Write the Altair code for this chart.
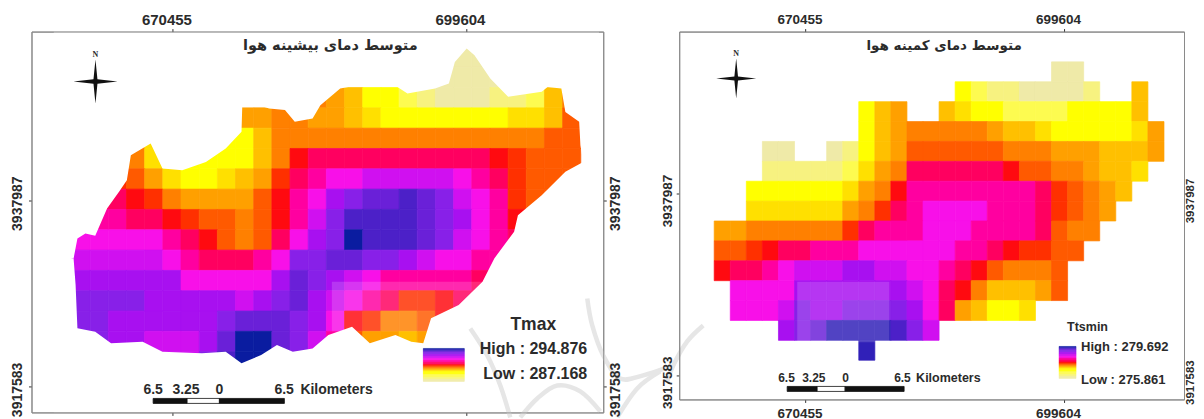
import altair as alt
import pandas as pd

N = None
# Class of each raster cell, 0 (coolest, cream) to 20 (warmest, navy); each row: first column, values
TMAX_ROWS = [
    (20, [0, 0, 0]),
    (20, [0, 0, 0, 0]),
    (13, [7, 6, 5, 3, 3, 2, 1, 0, 0, 0, 1, 1, 2, 5, 7]),
    (9, [6, 6, 7, 7, 6, 6, 5, 4, 3, 3, 3, 3, 3, 3, 3, 4, 4, 5, 8]),
    (3, [7, 4, 3, 3, 3, 3, 3, 5, 7, 7, 7, 7, 7, 7, 7, 7, 7, 7, 7, 7, 7, 7, 7, 8, 8]),
    (3, [7, 4, 3, 3, 3, 3, 3, 5, 7, 10, 11, 11, 11, 11, 11, 11, 11, 11, 11, 11, 10, 9, 8, 8, 8]),
    (2, [9, 8, 6, 4, 3, 3, 4, 5, 6, 9, 11, 12, 13, 13, 14, 14, 14, 14, 14, 13, 12, 11, 9, 8, 8, 8]),
    (1, [11, 11, 10, 9, 7, 6, 6, 6, 6, 8, 10, 12, 13, 15, 16, 17, 17, 18, 17, 16, 14, 13, 12, 9, 8, 8]),
    (1, [12, 12, 11, 11, 10, 9, 8, 8, 7, 8, 10, 12, 14, 16, 18, 18, 18, 18, 17, 16, 15, 13, 12, 10, 9]),
    (0, [13, 13, 13, 13, 13, 12, 11, 10, 8, 7, 8, 11, 13, 15, 16, 20, 18, 18, 18, 17, 16, 14, 13, 12, 11]),
    (0, [14, 14, 14, 14, 14, 13, 12, 11, 11, 11, 12, 13, 16, 16, 17, 17, 16, 16, 15, 14, 13, 13, 12, 12]),
    (0, [15, 15, 15, 15, 15, 15, 13, 13, 13, 13, 13, 15, 17, 16, 15, 14, 13, 12, 12, 12, 12, 12, 11]),
    (0, [16, 16, 16, 16, 15, 15, 15, 15, 15, 14, 15, 16, 17, 15, 14, 13, 12, 11, 9, 9, 10, 11, 11]),
    (0, [16, 16, 15, 15, 15, 15, 15, 15, 16, 17, 17, 17, 16, 15, 13, 10, 9, 7, 7, 8, 10, 11]),
    (0, [16, 16, 15, 15, 14, 14, 14, 15, 17, 20, 20, 17, 16, 14, 12, 8, 6, 6, 5, 6]),
    (4, [14, 14, 14, 16, 18, 20, 20, 17, 16, 14]),
]
TMIN_ROWS = [
    (21, [0, 0]),
    (15, [3, 2, 1, 1, 0, 0, 0, 0, 1, N, N, 5]),
    (9, [3, 5, 6, N, N, 5, 4, 3, 3, 2, 2, 2, 2, 3, 3, 3, 3, 5]),
    (9, [3, 5, 6, 7, 7, 7, 7, 7, 6, 5, 5, 4, 3, 3, 3, 3, 3, 4, 6]),
    (3, [0, 0, N, N, 0, 1, 3, 5, 6, 8, 8, 8, 8, 8, 8, 7, 7, 7, 6, 6, 6, 5, 5, 5, 6]),
    (3, [1, 1, 1, 1, 1, 2, 4, 6, 7, 11, 11, 11, 11, 11, 11, 10, 8, 8, 7, 7, 6, 5, 5, 4]),
    (2, [3, 3, 3, 3, 3, 3, 4, 6, 7, 10, 12, 12, 12, 12, 12, 12, 12, 12, 11, 9, 8, 7, 6, 5]),
    (2, [4, 4, 4, 4, 4, 4, 6, 7, 9, 11, 12, 13, 13, 13, 13, 12, 12, 12, 11, 9, 8, 7, 6]),
    (0, [6, 6, 7, 7, 7, 7, 7, 7, 9, 11, 12, 12, 12, 13, 13, 13, 12, 12, 12, 12, 11, 8, 7, 7]),
    (0, [8, 8, 9, 10, 11, 11, 12, 12, 12, 13, 13, 13, 13, 13, 13, 12, 12, 11, 10, 9, 9, 8, 8]),
    (0, [10, 11, 11, 12, 13, 14, 14, 14, 15, 15, 14, 14, 13, 13, 12, 11, 10, 8, 7, 7, 7, 8]),
    (1, [13, 13, 13, 13, 15, 15, 15, 15, 15, 15, 15, 14, 13, 11, 10, 7, 5, 5, 5, 6, 8]),
    (1, [13, 13, 13, 14, 16, 15, 15, 16, 16, 16, 16, 15, 13, 11, 6, 5, 3, 3, 4]),
    (4, [15, 16, 17, 19, 19, 19, 19, 18, 16, 14]),
    (9, [19]),
]
# Catchment outline in raster cell units (column, row), for the Tmax raster
OUTLINE_TOP_COL = [-1, .09, .30, .74, 1.28, 1.93, 2.59, 3.02, 3.24, 4.33, 4.98, 6.07, 7.37, 8.46, 9.33, 9.37, 9.98, 10.85, 11.72, 12.26, 13.24, 13.67, 14.76, 15.96, 17.70, 18.46, 19.98, 20.74, 21.07, 21.72, 22.15, 23.02, 24.0, 25.85, 26.17, 26.93, 27.15, 27.91, 27.98, 28.13, 29]
OUTLINE_TOP_ROW = [10.41, 10.41, 9.43, 9.18, 9.30, 7.95, 7.13, 6.56, 5.33, 4.75, 5.98, 6.07, 5.66, 5.0, 4.18, 2.95, 2.79, 3.03, 3.11, 3.69, 3.52, 2.87, 2.05, 1.85, 1.85, 2.30, 2.05, 1.80, .74, .08, .41, 1.56, 2.46, 2.21, 1.97, 2.05, 3.20, 3.69, 4.84, 5.66, 5.66]
OUTLINE_LOW_COL = [-1, .09, .20, .30, 1.28, 2.15, 3.89, 4.98, 7.15, 8.46, 9.33, 10.41, 11.28, 12.15, 13.24, 14.11, 15.41, 16.39, 17.8, 18.67, 19.33, 19.76, 21.28, 22.59, 23.24, 24.33, 24.54, 25.85, 27.15, 28.13, 29]
OUTLINE_LOW_ROW = [10.41, 10.41, 11.72, 13.85, 14.02, 14.59, 14.51, 15.0, 15.08, 15.0, 15.57, 15.16, 14.67, 15.0, 14.84, 14.18, 13.77, 14.59, 14.18, 14.51, 14.59, 13.36, 12.70, 11.56, 10.41, 9.10, 8.28, 7.30, 6.15, 5.66, 5.66]

COLOR_LEVELS = list(range(21))
COLOR_RANGE = ["#efeaa8", "#f7f280", "#fdfb50", "#ffff00", "#ffe000", "#ffc000", "#ffa000", "#ff8000", "#ff5a00",
               "#ff3000", "#ff0a10", "#ff0060", "#ff00a0", "#f810e8", "#d010f0", "#a810f0", "#8820e8", "#6a20d8",
               "#4c20c8", "#3020b8", "#0a1ca0"]
LEGEND_LEVELS = [20, 19, 18, 17, 16, 16, 15, 15, 14, 14, 13, 13, 12, 12, 11, 11, 10, 9, 8, 7, 6, 5, 4, 3, 3, 3, 2, 2, 2, 1, 1, 0, 0]

# Faint watermark arcs behind the two maps (screen position in the source figure)
WATERMARK_X = [
    [587, 592, 603, 620, 643, 670],
    [470, 487, 500, 510],
    [520, 537, 557, 580, 600],
    [617, 637, 660],
    [703, 687, 673, 667],
]
WATERMARK_Y = [
    [300, 327, 357, 380, 377, 368],
    [330, 357, 387, 419],
    [419, 400, 387, 393, 413],
    [419, 390, 373],
    [327, 343, 367, 383],
]

X_TICKS = [670455, 699604]
Y_TICKS = [3917583, 3937987]
FONT = "Liberation Sans"
INK = "#2b2b2b"
color_scale = alt.Scale(domain=COLOR_LEVELS, range=COLOR_RANGE)


def panel(spec):
    left, top, right, bottom = spec["frame"]
    w, h = right - left, bottom - top
    ex, ey = spec["m_per_px"]
    tx, ty = spec["tick_px"]  # pixel of first x tick, pixel of first y tick
    east = lambda px: X_TICKS[0] + (px - tx) * ex
    north = lambda py: Y_TICKS[0] + (ty - py) * ey
    sx = alt.Scale(domain=[east(left), east(right)])
    sy = alt.Scale(domain=[north(bottom), north(top)])
    ox, oy, cw, ch = spec["grid"]
    col_e = lambda c: east(ox + cw * c)
    row_n = lambda r: north(oy + ch * r)

    cells = []
    for r, (start, vals) in enumerate(spec["rows"]):
        for i, v in enumerate(vals):
            if v is None:
                continue
            c = start + i
            cells.append(dict(x=col_e(c), x2=col_e(c + 1), y=row_n(r), y2=row_n(r + 1), level=v))
    X = lambda a=None: alt.X("x:Q", scale=sx, axis=a, title=None)
    Y = lambda a=None: alt.Y("y:Q", scale=sy, axis=a, title=None)
    X2, Y2 = alt.X2("x2:Q"), alt.Y2("y2:Q")
    fill = alt.Color("level:Q", scale=color_scale, legend=None)
    edge = alt.Stroke("level:Q", scale=color_scale, legend=None)
    ax = dict(values=X_TICKS, format="d", title=None, grid=False, domainColor="#8a8a8a", domainWidth=1, zindex=1,
              tickColor="#333333", tickSize=3, labelFont=FONT, labelFontWeight="bold", labelColor=INK,
              labelFontSize=spec["tick_font"], labelOffset=-6)
    ay = dict(values=Y_TICKS, format="d", title=None, grid=False, domainColor="#8a8a8a", domainWidth=1, zindex=1,
              tickColor="#333333", tickSize=3, labelFont=FONT, labelFontWeight="bold", labelColor=INK,
              labelAngle=-90, labelAlign="center", labelOffset=spec["yoff"])

    layers = []
    layers.append(alt.Chart(pd.DataFrame(cells)).mark_rect(strokeWidth=0.7).encode(
        x=X(alt.Axis(orient="bottom", labels=spec["bottom_labels"], labelPadding=spec["pad_bottom"], **ax)),
        y=Y(alt.Axis(orient="left", labelBaseline="bottom", labelPadding=spec["pad_left"],
                     labelFontSize=spec["y_font"], **ay)), x2=X2, y2=Y2,
        color=fill, stroke=edge))
    layers.append(alt.Chart(pd.DataFrame([dict(x=X_TICKS[0], y=Y_TICKS[0])])).mark_point(opacity=0).encode(
        x=X(alt.Axis(orient="top", labelPadding=spec["pad_top"], **ax)),
        y=Y(alt.Axis(orient="right", labelBaseline="top", labelPadding=spec["pad_right"],
                     labelFontSize=spec["right_font"], **ay))))

    # pale watermark patch on the raster
    c0, c1, r0, r1 = spec["patch"]
    layers.append(alt.Chart(pd.DataFrame([dict(x=col_e(c0), x2=col_e(c1), y=row_n(r0), y2=row_n(r1))]))
                  .mark_rect(color="white", opacity=0.16).encode(x=X(), x2=X2, y=Y(), y2=Y2))

    # catchment outline: white outside the boundary
    if spec.get("outline"):
        for cols, rows, edge_fn in spec["outline"]:
            d = pd.DataFrame(dict(x=[col_e(c) for c in cols], y=[row_n(r) for r in rows], y2=edge_fn(north, top, bottom)))
            layers.append(alt.Chart(d).mark_area(color="white", clip=True).encode(x=X(), y=Y(), y2=Y2))

    # faint watermark strokes
    if spec.get("watermark"):
        for k, (xs, ys) in enumerate(zip(WATERMARK_X, WATERMARK_Y)):
            d = pd.DataFrame(dict(x=[east(v) for v in xs], y=[north(v) for v in ys], i=list(range(len(xs)))))
            layers.append(alt.Chart(d).mark_line(color="#e6e6e6", strokeWidth=4.5, interpolate="cardinal").encode(
                x=X(), y=Y(), order="i:Q"))

    # legend ramp
    lx0, lx1, ly0, ly1 = spec["ramp"]
    n = len(LEGEND_LEVELS)
    ramp = [dict(x=east(lx0), x2=east(lx1), y=north(ly0 + (ly1 - ly0) * i / n), y2=north(ly0 + (ly1 - ly0) * (i + 1) / n), level=v)
            for i, v in enumerate(LEGEND_LEVELS)]
    layers.append(alt.Chart(pd.DataFrame(ramp)).mark_rect(strokeWidth=0.5).encode(
        x=X(), x2=X2, y=Y(), y2=Y2, color=fill, stroke=edge))

    # scale bar
    for a, b, fc in spec["bar"]:
        d = pd.DataFrame([dict(x=east(a), x2=east(b), y=north(spec["bar_y"][0]), y2=north(spec["bar_y"][1]))])
        layers.append(alt.Chart(d).mark_rect(fill=fc, stroke="#111111", strokeWidth=0.8).encode(x=X(), x2=X2, y=Y(), y2=Y2))

    # north arrow
    star = "M0,-1 L0.09,-0.1 L1,0 L0.09,0.1 L0,1 L-0.09,0.1 L-1,0 L-0.09,-0.1 Z"
    ax_, ay_, size = spec["north"]
    layers.append(alt.Chart(pd.DataFrame([dict(x=east(ax_), y=north(ay_))])).mark_point(
        shape=star, size=size, filled=True, color="#111111", opacity=1).encode(x=X(), y=Y()))

    # texts
    for t in spec["texts"]:
        d = pd.DataFrame([dict(x=east(t["x"]), y=north(t["y"]), label=t["text"])])
        layers.append(alt.Chart(d).mark_text(
            font=t.get("font", FONT), fontWeight=t.get("weight", "bold"), fontSize=t["size"], color=t.get("color", INK),
            align=t.get("align", "left"), baseline="middle").encode(x=X(), y=Y(), text="label:N"))

    return alt.layer(*layers).resolve_axis(x="independent", y="independent").properties(width=w, height=h)


top_edge = lambda north, top, bottom: north(top)
low_edge = lambda north, top, bottom: north(bottom)

left_spec = dict(
    frame=(31, 33, 603, 414), m_per_px=(99.28, 109.52), tick_px=(172, 388), grid=(71.5, 48.3, 18.18, 20.33),
    rows=TMAX_ROWS, tick_font=15, y_font=14, right_font=14, pad_top=1.5, pad_bottom=3, pad_left=4, pad_right=2.5, yoff=3, bottom_labels=False,
    patch=(14.3, 22.6, 11.56, 14.0), watermark=True,
    outline=[(OUTLINE_TOP_COL, OUTLINE_TOP_ROW, top_edge), (OUTLINE_LOW_COL, OUTLINE_LOW_ROW, low_edge)],
    ramp=(423, 464, 350, 383), bar=[(152.7, 186.7, "#111111"), (186.7, 219, "white"), (219, 284, "#111111")], bar_y=(400, 405),
    north=(95, 83, 1936),
    texts=[
        dict(text="متوسط دمای بیشینه هوا", x=330, y=47, size=14.5, align="center", font="DejaVu Sans"),
        dict(text="N", x=95, y=56, size=8, align="center", font="Liberation Serif"),
        dict(text="Tmax", x=533, y=327, size=17.5, align="center"),
        dict(text="High : 294.876", x=587, y=351, size=16, align="right"),
        dict(text="Low : 287.168", x=587, y=376, size=16, align="right"),
        dict(text="6.5", x=143, y=392, size=14),
        dict(text="3.25", x=172, y=392, size=14),
        dict(text="0", x=215, y=392, size=14),
        dict(text="6.5", x=274, y=392, size=14),
        dict(text="Kilometers", x=300, y=392, size=14),
    ],
)
right_spec = dict(
    frame=(679, 33, 1184, 401), m_per_px=(112.72, 112.3), tick_px=(805.4, 376.7), grid=(714, 63.3, 16.07, 19.9),
    rows=TMIN_ROWS, tick_font=13.5, y_font=13.5, right_font=11.5, pad_top=2.5, pad_bottom=4, pad_left=2, pad_right=-3, yoff=7, bottom_labels=True,
    patch=(5.17, 10.9, 11.05, 14.1),
    ramp=(1059, 1076, 348, 380), bar=[(787, 817, "#111111"), (817, 845, "white"), (845, 904, "#111111")], bar_y=(388, 393),
    north=(736, 80, 1600),
    texts=[
        dict(text="متوسط دمای کمینه هوا", x=944, y=47, size=13.5, align="center", font="DejaVu Sans"),
        dict(text="N", x=736, y=55, size=8, align="center", font="Liberation Serif"),
        dict(text="Ttsmin", x=1067, y=329, size=12.5),
        dict(text="High : 279.692", x=1081, y=349, size=13),
        dict(text="Low : 275.861", x=1081, y=382, size=13),
        dict(text="6.5", x=778, y=380, size=12),
        dict(text="3.25", x=802, y=380, size=12),
        dict(text="0", x=842, y=380, size=12),
        dict(text="6.5", x=894, y=380, size=12),
        dict(text="Kilometers", x=916, y=380, size=12.5),
    ],
)

chart = alt.hconcat(panel(left_spec), panel(right_spec), spacing=76, bounds="flush").configure(
    padding={"left": 1.5, "top": 3.5, "right": 0, "bottom": 0}, background="white"
).configure_view(stroke="#8a8a8a", strokeWidth=1)
chart.save("out.html", embed_options={"renderer": "svg", "actions": False})
